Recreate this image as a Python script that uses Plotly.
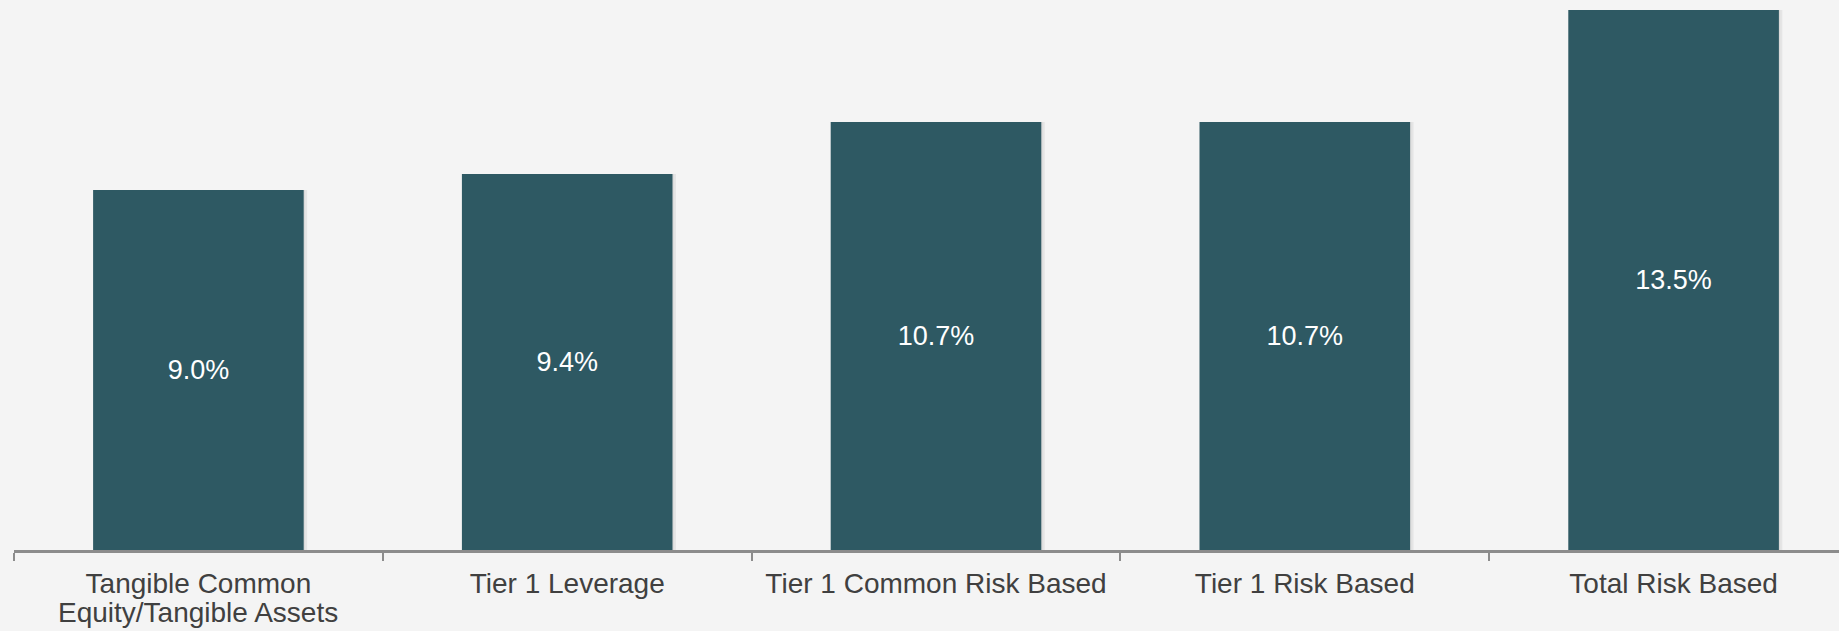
import plotly.graph_objects as go

categories = ["Tangible Common Equity/Tangible Assets", "Tier 1 Leverage",
              "Tier 1 Common Risk Based", "Tier 1 Risk Based", "Total Risk Based"]
tick_labels = ["Tangible Common", "Tier 1 Leverage",
               "Tier 1 Common Risk Based", "Tier 1 Risk Based", "Total Risk Based"]
tick_second_lines = ["Equity/Tangible Assets", "", "", "", ""]
values = [9.0, 9.4, 10.7, 10.7, 13.5]

BAR = "#2E5963"
BG = "#F4F4F4"
AXIS = "#8C8C8C"
TXT = "#404040"
FONT = "Arial, Liberation Sans, sans-serif"

fig = go.Figure()
# soft shadow behind bars
fig.add_trace(go.Bar(x=categories, y=values, width=0.578, offset=-0.283,
                     marker=dict(color="rgba(0,0,0,0.06)", line=dict(width=0)),
                     hoverinfo="skip", showlegend=False))
fig.add_trace(go.Bar(x=categories, y=values, width=0.574, offset=-0.285,
                     marker=dict(color="rgba(0,0,0,0.05)", line=dict(width=0)),
                     hoverinfo="skip", showlegend=False))
fig.add_trace(go.Bar(x=categories, y=values, width=0.571, offset=-0.2855,
                     marker=dict(color=BAR, line=dict(width=0)),
                     texttemplate="%{y:.1f}%", textposition="inside",
                     insidetextanchor="middle", textangle=0,
                     insidetextfont=dict(color="white", size=27, family=FONT),
                     showlegend=False))

for cat, line2 in zip(categories, tick_second_lines):
    if line2:
        fig.add_annotation(x=cat, y=0, xref="x", yref="paper", text=line2,
                           showarrow=False, yanchor="top", xanchor="center",
                           yshift=-46, borderpad=0,
                           font=dict(size=28, color=TXT, family=FONT))

fig.update_layout(
    width=1839, height=631,
    margin=dict(l=14, r=0, t=0, b=81),
    paper_bgcolor=BG, plot_bgcolor=BG,
    barmode="overlay",
    font=dict(family=FONT, color=TXT),
)
fig.update_xaxes(
    type="category", range=[-0.5, 4.4485],
    tickmode="array", tickvals=categories, ticktext=tick_labels,
    tickson="boundaries", ticks="outside", ticklen=8, tickwidth=2, tickcolor=AXIS,
    showline=True, linewidth=3, linecolor=AXIS, showgrid=False, zeroline=False,
    tickfont=dict(size=28, color=TXT, family=FONT), ticklabelstandoff=6,
)
fig.update_yaxes(range=[0, 13.75], visible=False, showgrid=False, zeroline=False)

fig.write_html("out.html")
